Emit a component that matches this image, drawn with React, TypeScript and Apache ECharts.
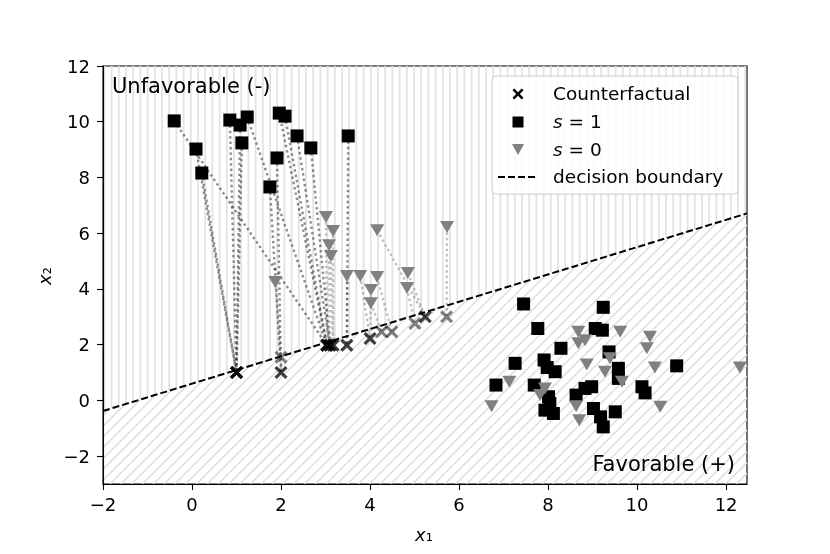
import React, { useEffect, useRef } from "react";
import * as echarts from "echarts";

// ---- axis ranges & ticks ----
const xMin = -2;
const xMax = 12.47;
const yMin = -3;
const yMax = 12;
const xTicks = [-2, 0, 2, 4, 6, 8, 10, 12];
const yTicks = [-2, 0, 2, 4, 6, 8, 10, 12];

// ---- decision boundary y = slope * x + intercept ----
const boundarySlope = 0.49;
const boundaryIntercept = 0.6;

// ---- s = 1 samples in the unfavorable region and their counterfactuals ----
const sqX = [-0.4, 0.09, 0.22, 0.85, 1.08, 1.24, 1.12, 1.96, 2.09, 2.36, 2.67, 3.51, 1.91, 1.75];
const sqY = [10.03, 9.02, 8.16, 10.06, 9.88, 10.17, 9.24, 10.31, 10.2, 9.49, 9.06, 9.49, 8.7, 7.66];
const sqCfX = [3.03, 1.0, 1.0, 1.0, 1.0, 3.03, 1.0, 3.03, 3.03, 3.1, 3.1, 3.48, 2.0, 2.0];
const sqCfY = [1.98, 1.0, 1.0, 1.0, 1.0, 1.98, 1.0, 1.98, 1.98, 1.98, 1.98, 1.98, 1.0, 1.0];

// ---- s = 0 samples in the unfavorable region and their counterfactuals ----
const trX = [3.01, 3.17, 3.08, 3.12, 4.16, 5.73, 3.48, 3.78, 4.16, 4.02, 4.02, 4.85, 4.83, 1.87];
const trY = [6.58, 6.08, 5.57, 5.18, 6.11, 6.22, 4.46, 4.46, 4.43, 3.96, 3.49, 4.57, 4.03, 4.25];
const trCfX = [3.03, 3.17, 3.1, 3.17, 5.24, 5.72, 3.48, 4.0, 4.49, 4.0, 4.26, 5.24, 5.01, 2.0];
const trCfY = [1.98, 1.98, 1.98, 1.98, 3.0, 3.0, 1.98, 2.22, 2.46, 2.22, 2.46, 3.0, 2.76, 1.55];

// ---- s = 1 samples in the favorable region ----
const fsqX = [7.45, 9.24, 7.77, 9.06, 9.22, 8.29, 9.37, 7.26, 7.91, 7.98, 8.16, 9.58, 10.89, 9.58, 6.83, 7.69, 8.98, 8.83, 8.63, 10.11, 10.18, 8.01, 8.04, 7.93, 8.12, 9.02, 9.18, 9.24, 9.51];
const fsqY = [3.46, 3.34, 2.58, 2.58, 2.52, 1.87, 1.74, 1.33, 1.45, 1.18, 1.03, 1.15, 1.24, 0.79, 0.55, 0.55, 0.49, 0.43, 0.19, 0.49, 0.27, 0.13, -0.11, -0.35, -0.47, -0.29, -0.59, -0.95, -0.41];

// ---- s = 0 samples in the favorable region ----
const ftrX = [8.68, 8.68, 8.83, 9.62, 10.29, 10.22, 9.39, 8.87, 10.4, 9.28, 9.66, 7.13, 7.93, 7.82, 6.73, 8.63, 8.7, 10.52, 12.31];
const ftrY = [2.46, 2.05, 2.16, 2.46, 2.28, 1.87, 1.51, 1.29, 1.18, 1.03, 0.67, 0.67, 0.43, 0.19, -0.21, -0.21, -0.71, -0.23, 1.18];

const FONT = "DejaVu Sans";
const X_PATH = "path://M0,1.7L1.7,0L5,3.3L8.3,0L10,1.7L6.7,5L10,8.3L8.3,10L5,6.7L1.7,10L0,8.3L3.3,5Z";

const fmt = (v: number) => (v < 0 ? "\u2212" + Math.abs(v) : String(v));

function xPolygon(cx: number, cy: number, s: number) {
  const t = [
    [0, 1.7], [1.7, 0], [5, 3.3], [8.3, 0], [10, 1.7], [6.7, 5],
    [10, 8.3], [8.3, 10], [5, 6.7], [1.7, 10], [0, 8.3], [3.3, 5],
  ];
  return t.map(([a, b]) => [cx + ((a - 5) * s) / 10, cy + ((b - 5) * s) / 10]);
}

export default function App() {
  const ref = useRef<HTMLDivElement>(null);
  useEffect(() => {
    if (!ref.current) return;
    const chart = echarts.init(ref.current, undefined, { renderer: "svg" });

    const pairs = (xs: number[], ys: number[]) => xs.map((x, i) => [x, ys[i]]);
    const links = (xs: number[], ys: number[], cx: number[], cy: number[]) =>
      xs.map((x, i) => ({ coords: [[x, ys[i]], [cx[i], cy[i]]] }));

    const cfPoints = [...pairs(sqCfX, sqCfY), ...pairs(trCfX, trCfY)];

    const hatch = (params: any, api: any) => {
      const tl = api.coord([xMin, yMax]);
      const br = api.coord([xMax, yMin]);
      const L = tl[0], T = tl[1], R = br[0], B = br[1];
      const p1 = api.coord([xMin, boundarySlope * xMin + boundaryIntercept]);
      const p2 = api.coord([xMax, boundarySlope * xMax + boundaryIntercept]);
      const m = (p2[1] - p1[1]) / (p2[0] - p1[0]);
      const a = p1[1] - m * p1[0];
      const children: any[] = [];
      const vs = 7.2;
      for (let k = Math.ceil(L / vs - 0.5); (k + 0.5) * vs < R; k++) {
        const x = (k + 0.5) * vs;
        if (x <= L) continue;
        const yb = Math.min(B, a + m * x);
        if (yb > T)
          children.push({
            type: "line",
            shape: { x1: x, y1: T, x2: x, y2: yb },
            style: { stroke: "#e3e3e3", lineWidth: 1.8 },
          });
      }
      const ds = 10.8;
      for (let c = Math.floor((L + T) / ds) * ds; c < R + B + ds; c += ds) {
        const xa = Math.max(L, c - B);
        const xb = Math.min(R, (c - a) / (1 + m));
        if (xb > xa)
          children.push({
            type: "line",
            shape: { x1: xa, y1: c - xa, x2: xb, y2: c - xb },
            style: { stroke: "#dedede", lineWidth: 1.5 },
          });
      }
      return { type: "group", children };
    };

    const legendX = 492, legendY = 76;
    const textStyle = { fontFamily: FONT, fontSize: 18.5, fill: "#000" };
    const LZ = 100;

    chart.setOption({
      animation: false,
      grid: {
        left: 103, right: 83, top: 66, bottom: 70,
        show: true, borderColor: "#000", borderWidth: 1.1, backgroundColor: "transparent",
      },
      xAxis: {
        type: "value", min: xMin, max: xMax,
        axisLine: { show: true, onZero: false, lineStyle: { color: "#000", width: 1.1 } },
        axisTick: { show: true, length: 6, lineStyle: { color: "#000", width: 1.1 }, customValues: xTicks },
        axisLabel: { customValues: xTicks, formatter: fmt, color: "#000", fontFamily: FONT, fontSize: 18, margin: 11 },
        splitLine: { show: false },
      },
      yAxis: {
        type: "value", min: yMin, max: yMax,
        axisLine: { show: true, onZero: false, lineStyle: { color: "#000", width: 1.1 } },
        axisTick: { show: true, length: 6, lineStyle: { color: "#000", width: 1.1 }, customValues: yTicks },
        axisLabel: { customValues: yTicks, formatter: fmt, color: "#000", fontFamily: FONT, fontSize: 18, margin: 13 },
        splitLine: { show: false },
      },
      series: [
        {
          type: "custom", silent: true, z: 0, clip: false,
          data: [[xMin, yMin]],
          renderItem: hatch,
        },
        {
          type: "lines", coordinateSystem: "cartesian2d", silent: true, z: 2,
          data: links(trX, trY, trCfX, trCfY),
          lineStyle: { color: "rgba(128,128,128,0.5)", width: 2.4, type: [2.4, 3], opacity: 1 },
        },
        {
          type: "lines", coordinateSystem: "cartesian2d", silent: true, z: 2,
          data: links(sqX, sqY, sqCfX, sqCfY),
          lineStyle: { color: "rgba(0,0,0,0.45)", width: 2.4, type: [2.4, 3], opacity: 1 },
        },
        {
          type: "line", silent: true, z: 3, symbol: "none",
          data: [
            [xMin, boundarySlope * xMin + boundaryIntercept],
            [xMax, boundarySlope * xMax + boundaryIntercept],
          ],
          lineStyle: { color: "#000", width: 2, type: [7, 3] },
        },
        {
          type: "scatter", silent: true, z: 4, symbol: X_PATH, symbolSize: 13,
          data: cfPoints,
          itemStyle: { color: "#000", opacity: 0.5 },
        },
        {
          type: "scatter", silent: true, z: 5, symbol: "rect", symbolSize: 13,
          data: [...pairs(sqX, sqY), ...pairs(fsqX, fsqY)],
          itemStyle: { color: "#000", opacity: 1 },
        },
        {
          type: "scatter", silent: true, z: 5, symbol: "triangle", symbolRotate: 180, symbolSize: [14, 12],
          data: [...pairs(trX, trY), ...pairs(ftrX, ftrY)],
          itemStyle: { color: "#808080", opacity: 1 },
        },
      ],
      graphic: [
        { type: "text", left: 112, top: 75, z: LZ, style: { text: "Unfavorable (-)", fontFamily: FONT, fontSize: 21, fill: "#000" } },
        { type: "text", right: 830 - 735, top: 453, z: LZ, style: { text: "Favorable (+)", fontFamily: FONT, fontSize: 21, fill: "#000" } },
        {
          type: "text", x: 424, y: 534, z: LZ,
          style: {
            text: "{i|x}₁", align: "center", verticalAlign: "middle",
            rich: { i: { fontFamily: FONT, fontStyle: "italic", fontSize: 18 } },
            fontFamily: FONT, fontSize: 18, fill: "#000",
          },
        },
        {
          type: "text", x: 44, y: 276, rotation: Math.PI / 2, z: LZ,
          style: {
            text: "{i|x}₂", align: "center", verticalAlign: "middle",
            rich: { i: { fontFamily: FONT, fontStyle: "italic", fontSize: 18 } },
            fontFamily: FONT, fontSize: 18, fill: "#000",
          },
        },
        {
          type: "rect", z: LZ,
          shape: { x: legendX, y: legendY, width: 246, height: 118, r: 4 },
          style: { fill: "rgba(255,255,255,0.85)", stroke: "#cccccc", lineWidth: 1 },
        },
        { type: "polygon", z: LZ + 1, shape: { points: xPolygon(518, 94, 11) }, style: { fill: "#000" } },
        { type: "rect", z: LZ + 1, shape: { x: 512.5, y: 116.5, width: 11, height: 11 }, style: { fill: "#000" } },
        { type: "polygon", z: LZ + 1, shape: { points: [[512, 144], [524, 144], [518, 155]] }, style: { fill: "#808080" } },
        { type: "line", z: LZ + 1, shape: { x1: 498, y1: 177, x2: 538, y2: 177 }, style: { stroke: "#000", lineWidth: 2, lineDash: [7, 3] } },
        { type: "text", z: LZ + 1, x: 553, y: 93, style: { ...textStyle, text: "Counterfactual", verticalAlign: "middle" } },
        {
          type: "text", z: LZ + 1, x: 553, y: 121,
          style: { ...textStyle, text: "{i|s} = 1", verticalAlign: "middle", rich: { i: { fontFamily: FONT, fontStyle: "italic", fontSize: 18.5 } } },
        },
        {
          type: "text", z: LZ + 1, x: 553, y: 149,
          style: { ...textStyle, text: "{i|s} = 0", verticalAlign: "middle", rich: { i: { fontFamily: FONT, fontStyle: "italic", fontSize: 18.5 } } },
        },
        { type: "text", z: LZ + 1, x: 553, y: 176, style: { ...textStyle, text: "decision boundary", verticalAlign: "middle" } },
      ],
    });
    return () => chart.dispose();
  }, []);
  return <div ref={ref} style={{ position: "fixed", left: 0, top: 0, width: 830, height: 554 }} />;
}
